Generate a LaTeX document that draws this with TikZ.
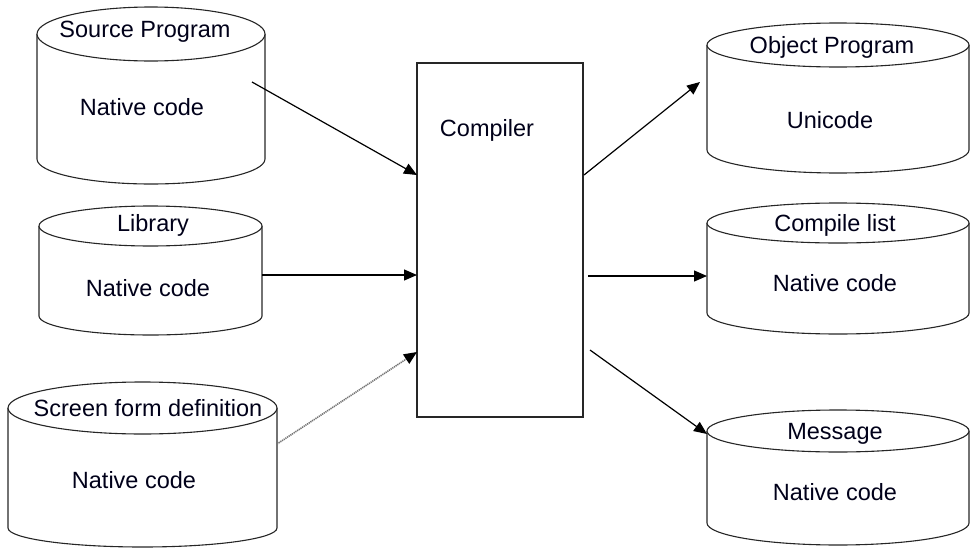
\documentclass[tikz,border=0pt]{standalone}
\usepackage{fontspec}
\setmainfont{Liberation Sans}
\usetikzlibrary{arrows.meta}
% #1 left x, #2 right x, #3 top centre y, #4 top y radius, #5 bottom centre y, #6 bottom y radius
\newcommand\dbcyl[6]{%
  \draw[cylline] (#1,#3) -- (#1,#5)
    arc[start angle=180,end angle=0,x radius={(#2-#1)/2},y radius=#6] -- (#2,#3);
  \draw[cylline,fill=white] ({(#1+#2)/2},#3) ellipse [x radius={(#2-#1)/2},y radius=#4];
}
\begin{document}
\begin{tikzpicture}[x=1pt,y=-1pt,
  cylline/.style={line width=1.1pt,draw=black!85},
  txt/.style={inner sep=0pt,font=\fontsize{23.5}{28}\selectfont,text=black!90!blue},
  boxstyle/.style={draw=black!85,line width=1.3pt,minimum width=166pt,minimum height=354pt,inner sep=0pt},
  arr/.style={line width=1.2pt,-{Triangle[length=13pt,width=11pt]}},
  dotarr/.style={line width=1.6pt,draw=black!55,dash pattern=on 1.2pt off 0.8pt,-{Triangle[length=13pt,width=11pt,black]}}]
\useasboundingbox (0,0) rectangle (970,549);

% left cylinders
\dbcyl{37}{265}{34}{27}{159}{25}
\dbcyl{39}{262}{226}{20}{316}{19}
\dbcyl{8}{277}{408}{26}{528}{19}
% right cylinders
\dbcyl{707}{969}{45}{22}{150}{23}
\dbcyl{707}{969}{223}{20}{313}{21}
\dbcyl{707}{969}{431}{21}{523}{22}

% compiler box
\node[boxstyle] (comp) at (500,240) {};
\node[txt] (compT) at (487,130) {Compiler};

% texts
\node[txt] (srcT) at (145,32) {Source Program};
\node[txt] (srcN) at (142,107) {Native code};
\node[txt] (libT) at (153,225) {Library};
\node[txt] (libN) at (148,288) {Native code};
\node[txt] (scrT) at (148,408) {Screen form definition};
\node[txt] (scrN) at (134,480) {Native code};
\node[txt] (objT) at (832,47) {Object Program};
\node[txt] (objN) at (830,120) {Unicode};
\node[txt] (lstT) at (835,225) {Compile list};
\node[txt] (lstN) at (835,283) {Native code};
\node[txt] (msgT) at (835,434) {Message};
\node[txt] (msgN) at (835,492) {Native code};

% connector ends
\coordinate (srcOut) at (252,82);
\coordinate (libOut) at (262,275);
\coordinate (scrOut) at (277,444);
\coordinate (in1) at (417,175);
\coordinate (in2) at (417,275);
\coordinate (in3) at (417,352);
\coordinate (out1) at (584,175);
\coordinate (out2) at (588,276);
\coordinate (out3) at (590,350);
\coordinate (objIn) at (700,82);
\coordinate (lstIn) at (707,276);
\coordinate (msgIn) at (707,434);

\draw[arr] (srcOut) -- (in1);
\draw[arr] (libOut) -- (in2);
\draw[dotarr] (scrOut) -- (in3);
\draw[arr] (out1) -- (objIn);
\draw[arr] (out2) -- (lstIn);
\draw[arr] (out3) -- (msgIn);
\end{tikzpicture}
\end{document}
